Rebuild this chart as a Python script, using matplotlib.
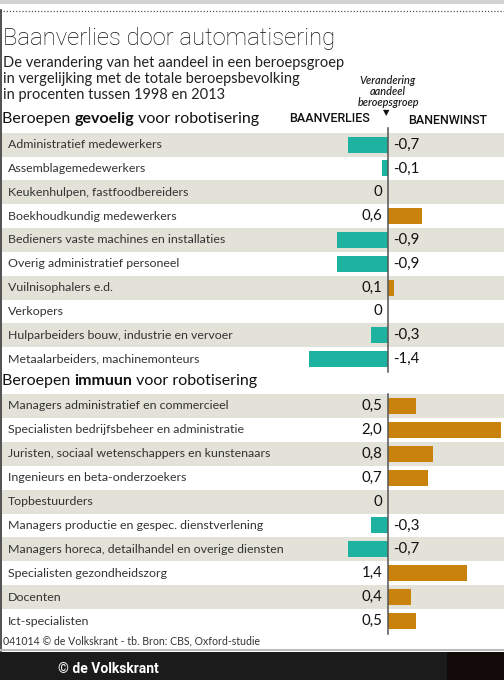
import matplotlib
matplotlib.use("Agg")
import matplotlib.pyplot as plt
from matplotlib.patches import Rectangle
from matplotlib.lines import Line2D
from matplotlib.offsetbox import TextArea, HPacker, AnchoredOffsetbox

# ---- data ----
title = "Baanverlies door automatisering"
subtitle = ["De verandering van het aandeel in een beroepsgroep",
            "in vergelijking met de totale beroepsbevolking",
            "in procenten tussen 1998 en 2013"]

cats_vulnerable = ["Administratief medewerkers", "Assemblagemedewerkers",
                   "Keukenhulpen, fastfoodbereiders", "Boekhoudkundig medewerkers",
                   "Bedieners vaste machines en installaties", "Overig administratief personeel",
                   "Vuilnisophalers e.d.", "Verkopers",
                   "Hulparbeiders bouw, industrie en vervoer", "Metaalarbeiders, machinemonteurs"]
vals_vulnerable = [-0.7, -0.1, 0, 0.6, -0.9, -0.9, 0.1, 0, -0.3, -1.4]

cats_immune = ["Managers administratief en commercieel",
               "Specialisten bedrijfsbeheer en administratie",
               "Juristen, sociaal wetenschappers en kunstenaars",
               "Ingenieurs en beta-onderzoekers", "Topbestuurders",
               "Managers productie en gespec. dienstverlening",
               "Managers horeca, detailhandel en overige diensten",
               "Specialisten gezondheidszorg", "Docenten", "Ict-specialisten"]
vals_immune = [0.5, 2.0, 0.8, 0.7, 0, -0.3, -0.7, 1.4, 0.4, 0.5]

W, H = 504, 680
TEAL = "#1db3a0"
OCHRE = "#c9830c"
BAND = "#e3e2d8"
FONT = "Lato"

fig = plt.figure(figsize=(W / 100, H / 100), dpi=100)
fig.patch.set_facecolor("white")


def fx(px):
    return px / W


def fy(py):
    return 1 - py / H


# top grey strip + dotted line
fig.add_artist(Rectangle((0, fy(4)), 1, 4 / H, transform=fig.transFigure,
                         facecolor="#d2d2d2", edgecolor="none"))
fig.add_artist(Line2D([0, 1], [fy(10.5), fy(10.5)], transform=fig.transFigure,
                      color="#555555", lw=0.9, linestyle=(0, (1, 1.5))))
# left dark edge
fig.add_artist(Line2D([fx(0.6), fx(0.6)], [fy(10), fy(651)], transform=fig.transFigure,
                      color="#333333", lw=1.2))

# title and subtitle
fig.text(fx(3), fy(39), title, fontsize=17.2, family="Roboto", fontweight="light",
         color="#111111", va="center", ha="left")
for i, line in enumerate(subtitle):
    fig.text(fx(3), fy(63 + 16 * i), line, fontsize=10.5, family=FONT,
             color="#222222", va="center", ha="left")

# header column labels
for txt, yy in (("Verandering", 80), ("aandeel", 91.5), ("beroepsgroep", 103)):
    fig.text(fx(388), fy(yy), txt, fontsize=7.8, family=FONT, style="italic",
             fontweight="semibold", ha="center", va="center", color="#222222")
fig.text(fx(386.5), fy(113), "\u25BC", fontsize=6, family="DejaVu Sans",
         ha="center", va="center", color="#111111")
fig.text(fx(329), fy(119), "BAANVERLIES", fontsize=9, family="Roboto",
         fontweight="medium", ha="center", va="center", color="#111111")
fig.text(fx(447.5), fy(120), "BANENWINST", fontsize=9, family="Roboto",
         fontweight="medium", ha="center", va="center", color="#111111")


def header(y, word):
    parts = [TextArea("Beroepen ", textprops=dict(fontsize=11.5, family=FONT, color="#111111")),
             TextArea(word, textprops=dict(fontsize=11.5, family=FONT, fontweight="bold", color="#111111")),
             TextArea(" voor robotisering", textprops=dict(fontsize=11.5, family=FONT, color="#111111"))]
    box = HPacker(children=parts, align="baseline", pad=0, sep=0)
    ab = AnchoredOffsetbox(loc="center left", child=box, pad=0, frameon=False,
                           bbox_to_anchor=(fx(2), fy(y)), bbox_transform=fig.transFigure,
                           borderpad=0)
    fig.add_artist(ab)


header(119, "gevoelig")
header(381, "immuun")

XMIN = -388 / 56.5
XMAX = (W - 388) / 56.5


def fmt(v):
    if v == 0:
        return "0"
    return f"{v:.1f}".replace(".", ",")


def draw_section(top_px, bottom_px, cats, vals, line_top_px):
    ax = fig.add_axes([0, fy(bottom_px), 1, (bottom_px - top_px) / H])
    n = len(cats)
    ax.set_xlim(XMIN, XMAX)
    ax.set_ylim(n - 0.5, -0.5)
    ax.axis("off")
    for i in range(n):
        if i % 2 == 0:
            ax.axhspan(i - 0.5, i + 0.5, xmin=fx(2), xmax=1, facecolor=BAND,
                       edgecolor="none", zorder=0)
    colors = [TEAL if v < 0 else OCHRE for v in vals]
    ax.barh(range(n), vals, height=0.67, color=colors, zorder=2)
    # zero line
    ax.plot([0, 0], [n - 0.5 + 0.05, -0.5 - (top_px - line_top_px) / ((bottom_px - top_px) / n)],
            color="#555555", lw=1.1, zorder=3, clip_on=False)
    tr = ax.get_yaxis_transform()
    for i, (c, v) in enumerate(zip(cats, vals)):
        ax.text(fx(8), i, c, transform=tr, fontsize=8.9, family=FONT,
                color="#333333", ha="left", va="center")
        if v < 0:
            ax.annotate(fmt(v), xy=(0, i), xytext=(4, 0), textcoords="offset points",
                        ha="left", va="center", fontsize=10.8, family=FONT, color="#111111")
        else:
            ax.annotate(fmt(v), xy=(0, i), xytext=(-4, 0), textcoords="offset points",
                        ha="right", va="center", fontsize=10.8, family=FONT, color="#111111")
    return ax


draw_section(132.7, 371, cats_vulnerable, vals_vulnerable, 128)
draw_section(394, 633, cats_immune, vals_immune, 394)

# footer
fig.text(fx(3), fy(641), "041014 \u00a9 de Volkskrant - tb. Bron: CBS, Oxford-studie",
         fontsize=7.6, family=FONT, color="#333333", ha="left", va="center")
fig.add_artist(Line2D([0, 1], [fy(650), fy(650)], transform=fig.transFigure,
                      color="#bbbbbb", lw=1.5))
fig.add_artist(Rectangle((0, 0), fx(447), (H - 652) / H, transform=fig.transFigure,
                         facecolor="#1b1b1b", edgecolor="none"))
fig.add_artist(Rectangle((fx(447), 0), 1 - fx(447), (H - 652) / H, transform=fig.transFigure,
                         facecolor="#120909", edgecolor="none"))
fig.text(fx(58), fy(669), "\u00a9 de Volkskrant", fontsize=10, family="Roboto",
         fontweight="bold", color="white", ha="left", va="center")

fig.savefig("out.png", dpi=100)
